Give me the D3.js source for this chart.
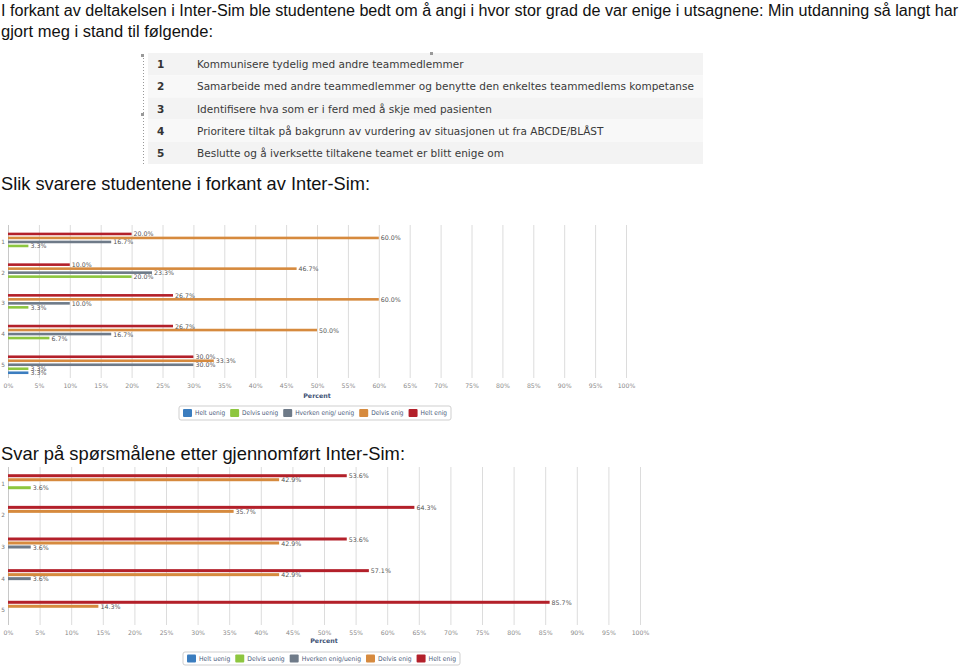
<!DOCTYPE html>
<html><head><meta charset="utf-8">
<script src="https://cdn.jsdelivr.net/npm/d3@7"></script>
<style>body{margin:0;background:#fff}svg{display:block}</style>
</head><body>
<svg id="c" width="960" height="666"></svg>
<script>
// ---------- data ----------
const titleLines = ["I forkant av deltakelsen i Inter-Sim ble studentene bedt om å angi i hvor stor grad de var enige i utsagnene: Min utdanning så langt har",
                    "gjort meg i stand til følgende:"];
const questionNumbers = ["1","2","3","4","5"];
const questionTexts = ["Kommunisere tydelig med andre teammedlemmer",
  "Samarbeide med andre teammedlemmer og benytte den enkeltes teammedlems kompetanse",
  "Identifisere hva som er i ferd med å skje med pasienten",
  "Prioritere tiltak på bakgrunn av vurdering av situasjonen ut fra ABCDE/BLÅST",
  "Beslutte og å iverksette tiltakene teamet er blitt enige om"];
const heading1 = "Slik svarere studentene i forkant av Inter-Sim:";
const heading2 = "Svar på spørsmålene etter gjennomført Inter-Sim:";
const seriesNames1 = ["Helt uenig","Delvis uenig","Hverken enig/ uenig","Delvis enig","Helt enig"];
const seriesNames2 = ["Helt uenig","Delvis uenig","Hverken enig/uenig","Delvis enig","Helt enig"];
const seriesColors = ["#3b7dbf","#8dc63f","#6e7a88","#d68a3e","#b3202a"];
// before (forkant)
const beforeHeltUenig   = [0, 0, 0, 0, 3.3];
const beforeDelvisUenig = [3.3, 20.0, 3.3, 6.7, 3.3];
const beforeHverken     = [16.7, 23.3, 10.0, 16.7, 30.0];
const beforeDelvisEnig  = [60.0, 46.7, 60.0, 50.0, 33.3];
const beforeHeltEnig    = [20.0, 10.0, 26.7, 26.7, 30.0];
// after (etter)
const afterHeltUenig   = [0, 0, 0, 0, 0];
const afterDelvisUenig = [3.6, 0, 0, 0, 0];
const afterHverken     = [0, 0, 3.6, 3.6, 0];
const afterDelvisEnig  = [42.9, 35.7, 42.9, 42.9, 14.3];
const afterHeltEnig    = [53.6, 64.3, 53.6, 57.1, 85.7];
const tickValues = [0,5,10,15,20,25,30,35,40,45,50,55,60,65,70,75,80,85,90,95,100];
const axisTitle = "Percent";

// ---------- drawing ----------
const svg = d3.select("#c");
const bodyFont = "'Liberation Sans', Arial, sans-serif";
const chartFont = "'DejaVu Sans', Verdana, sans-serif";

function fitText(sel, width){ sel.attr("textLength", width).attr("lengthAdjust","spacingAndGlyphs"); }

svg.append("text").attr("x",1).attr("y",16).attr("font-family",bodyFont).attr("font-size",16).attr("fill","#111")
  .text(titleLines[0]).call(fitText, 957);
svg.append("text").attr("x",1).attr("y",37).attr("font-family",bodyFont).attr("font-size",16).attr("fill","#111")
  .text(titleLines[1]).call(fitText, 212);

// question table
const tbl = svg.append("g");
const rowY = d3.scaleBand().domain(questionNumbers).range([53,164]);
tbl.selectAll("rect.row").data(questionNumbers).join("rect").attr("class","row")
  .attr("x",148).attr("width",555).attr("y",d=>rowY(d)).attr("height",rowY.bandwidth())
  .attr("fill",(d,i)=> i%2===0 ? "#f3f3f3" : "#f8f8f8");
tbl.append("line").attr("x1",143.5).attr("x2",143.5).attr("y1",55).attr("y2",164)
  .attr("stroke","#999").attr("stroke-dasharray","1,2");
[[142,55],[431,53],[142,114]].forEach(p=>tbl.append("rect").attr("x",p[0]-1).attr("y",p[1]-1).attr("width",3).attr("height",3).attr("fill","#999"));
tbl.selectAll("text.num").data(questionNumbers).join("text").attr("class","num")
  .attr("x",157).attr("y",d=>rowY(d)+rowY.bandwidth()/2+4).attr("font-family",chartFont)
  .attr("font-weight","bold").attr("font-size",10.5).attr("fill","#333").text(d=>d);
const qt = tbl.selectAll("text.q").data(questionTexts).join("text").attr("class","q")
  .attr("x",197).attr("y",(d,i)=>rowY(questionNumbers[i])+rowY.bandwidth()/2+4).attr("font-family",chartFont)
  .attr("font-size",11).attr("fill","#3a3a3a").text(d=>d);
const longest = qt.nodes()[1].getComputedTextLength();
qt.attr("font-size", 11*498/longest);

svg.append("text").attr("x",1).attr("y",190).attr("font-family",bodyFont).attr("font-size",19).attr("fill","#111")
  .text(heading1).call(fitText, 369);
svg.append("text").attr("x",1).attr("y",460).attr("font-family",bodyFont).attr("font-size",19).attr("fill","#111")
  .text(heading2).call(fitText, 404);

function drawChart(cfg){
  const g = svg.append("g");
  const x = d3.scaleLinear().domain([0,100]).range([cfg.x0, cfg.x1]);
  const y = d3.scaleBand().domain(questionNumbers).range([cfg.yTop, cfg.yBot]);
  const order = cfg.names.slice().reverse(); // Helt enig on top
  const sub = d3.scaleBand().domain(order).range([-10,10]);
  g.selectAll("line.grid").data(tickValues).join("line").attr("class","grid")
    .attr("x1",d=>x(d)+0.5).attr("x2",d=>x(d)+0.5).attr("y1",cfg.gridTop).attr("y2",cfg.gridBot)
    .attr("stroke","#dcdcdc").attr("stroke-width",1);
  g.append("line").attr("x1",cfg.x0+0.5).attr("x2",cfg.x0+0.5).attr("y1",cfg.gridTop).attr("y2",cfg.gridBot).attr("stroke","#c8c8c8");
  const ax = g.append("g").attr("transform",`translate(0,${cfg.gridBot})`)
    .call(d3.axisBottom(x).tickValues(tickValues).tickFormat(d=>d+"%").tickSize(0).tickPadding(cfg.tickPad));
  ax.select(".domain").remove();
  ax.selectAll("text").attr("font-family",chartFont).attr("font-size",6.2).attr("fill","#8a8a8a");
  g.selectAll("text.cat").data(questionNumbers).join("text").attr("class","cat")
    .attr("x",3).attr("y",d=>y(d)+y.bandwidth()/2+2).attr("text-anchor","middle")
    .attr("font-family",chartFont).attr("font-size",5.8).attr("fill","#777").text(d=>d);
  const series = cfg.values.map((vals,si)=>({name:cfg.names[si], color:seriesColors[si], vals}));
  series.forEach(s=>{
    const pts = s.vals.map((v,i)=>({q:questionNumbers[i], v})).filter(p=>p.v>0);
    g.selectAll(null).data(pts).join("rect")
      .attr("x",x(0)).attr("width",p=>x(p.v)-x(0))
      .attr("y",p=>y(p.q)+y.bandwidth()/2+sub(s.name)+sub.bandwidth()/2-cfg.barH/2)
      .attr("height",cfg.barH).attr("fill",s.color);
    g.selectAll(null).data(pts).join("text")
      .attr("x",p=>x(p.v)+2).attr("y",p=>y(p.q)+y.bandwidth()/2+sub(s.name)+sub.bandwidth()/2+2.5)
      .attr("font-family",chartFont).attr("font-size",6.3).attr("fill","#555")
      .text(p=>d3.format(".1f")(p.v)+"%");
  });
  g.append("text").attr("x",cfg.titleX).attr("y",cfg.titleY).attr("text-anchor","middle")
    .attr("font-family",chartFont).attr("font-weight","bold").attr("font-size",6.3).attr("fill","#3e5275").text(axisTitle);
  // legend: fit items into the target box width
  const lg = g.append("g");
  lg.append("rect").attr("x",cfg.legX).attr("y",cfg.legY).attr("width",cfg.legW).attr("height",cfg.legH).attr("rx",2)
    .attr("fill","#fff").attr("stroke","#cfcfcf");
  const gap = 5, swW = 9, swPad = 3;
  const items = cfg.names.map((n,i)=>{
    const sw = lg.append("rect").attr("y",cfg.legY+cfg.legH/2-4).attr("width",swW).attr("height",8).attr("rx",1).attr("fill",seriesColors[i]);
    const t = lg.append("text").attr("y",cfg.legY+cfg.legH/2+2.3)
      .attr("font-family",chartFont).attr("font-size",6.6).attr("fill","#4a5a7a").text(n);
    return {sw, t, w: t.node().getComputedTextLength()};
  });
  const avail = cfg.legW - 8 - items.length*(swW+swPad) - (items.length-1)*gap;
  const k = avail / d3.sum(items, it=>it.w);
  let cx = cfg.legX+4;
  items.forEach(it=>{
    const w = it.w*k;
    it.sw.attr("x",cx);
    it.t.attr("x",cx+swW+swPad).call(fitText, w);
    cx += swW + swPad + w + gap;
  });
}

drawChart({x0:8, x1:626, yTop:226.6, yBot:380.1, gridTop:225, gridBot:378, tickPad:6, barH:2.6,
  names:seriesNames1, values:[beforeHeltUenig,beforeDelvisUenig,beforeHverken,beforeDelvisEnig,beforeHeltEnig],
  titleX:317, titleY:398, legX:179, legY:406, legW:272, legH:14});
drawChart({x0:8, x1:640, yTop:467.9, yBot:626.1, gridTop:467, gridBot:625, tickPad:6, barH:3,
  names:seriesNames2, values:[afterHeltUenig,afterDelvisUenig,afterHverken,afterDelvisEnig,afterHeltEnig],
  titleX:324, titleY:643, legX:183, legY:652, legW:277, legH:13});
</script>
</body></html>
